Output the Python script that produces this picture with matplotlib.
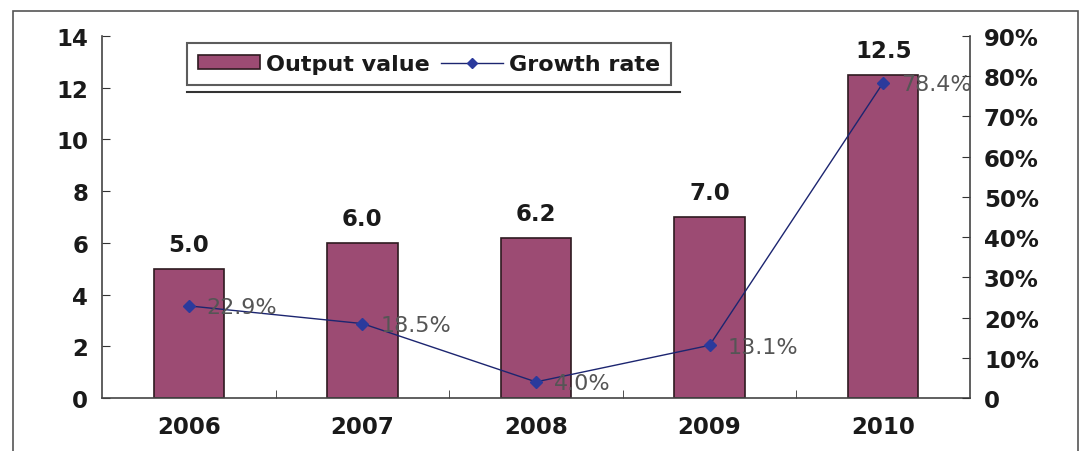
import matplotlib
matplotlib.use("Agg")
import matplotlib.pyplot as plt
from matplotlib.patches import Patch, Rectangle
from matplotlib.lines import Line2D

years = ["2006", "2007", "2008", "2009", "2010"]
output_value = [5.0, 6.0, 6.2, 7.0, 12.5]
growth_rate = [0.229, 0.185, 0.040, 0.131, 0.784]
left_ticks = [0, 2, 4, 6, 8, 10, 12, 14]
right_ticks = [0, 0.1, 0.2, 0.3, 0.4, 0.5, 0.6, 0.7, 0.8, 0.9]
right_labels = ["0", "10%", "20%", "30%", "40%", "50%", "60%", "70%", "80%", "90%"]

bar_color = "#9c4b73"
bar_edge = "#2e1a20"
line_color = "#1c2570"
marker_color = "#2b3a9c"
text_color = "#1a1a1a"

W, H = 1082, 452
fig = plt.figure(figsize=(W / 100, H / 100), dpi=100)
ax = fig.add_axes([102 / W, 1 - 399 / H, (970 - 102) / W, (399 - 37) / H])
ax2 = ax.twinx()

x = list(range(len(years)))
ax.bar(x, output_value, width=0.405, color=bar_color, edgecolor=bar_edge, linewidth=1.2, zorder=2)
for xi, v in zip(x, output_value):
    ax.annotate(f"{v:.1f}", (xi, v), xytext=(0, 9), textcoords="offset points",
                ha="center", va="bottom", fontsize=16.5, fontweight="bold", color=text_color)

ax2.plot(x, growth_rate, color=line_color, linewidth=1.0, marker="D", markersize=6,
         markerfacecolor=marker_color, markeredgecolor=marker_color, zorder=3)
for xi, g in zip(x, growth_rate):
    ax2.annotate(f"{g * 100:.1f}%", (xi, g), xytext=(13, -1), textcoords="offset points",
                 ha="left", va="center", fontsize=16, color="#555555")

ax.set_xlim(-0.5, len(years) - 0.5)
ax.set_ylim(0, 14)
ax2.set_ylim(0, 0.9)

ax.set_xticks(x)
ax.set_xticklabels(years, fontsize=16.5, fontweight="bold", color=text_color)
ax.set_xticks([i + 0.5 for i in x[:-1]], minor=True)
ax.tick_params(axis="x", which="major", length=0, pad=12)
ax.tick_params(axis="x", which="minor", direction="in", length=6, color="#333333")

ax.set_yticks(left_ticks)
ax.set_yticklabels([str(t) for t in left_ticks], fontsize=16.5, fontweight="bold", color=text_color)
ax.tick_params(axis="y", direction="in", length=6, pad=10, color="#333333")

ax2.set_yticks(right_ticks)
ax2.set_yticklabels(right_labels, fontsize=16.5, fontweight="bold", color=text_color)
ax2.tick_params(axis="y", direction="in", length=6, pad=10, color="#333333")

for a in (ax, ax2):
    a.spines["top"].set_visible(False)
    for s in ("left", "right", "bottom"):
        a.spines[s].set_color("#444444")
        a.spines[s].set_linewidth(1.2)
ax.spines["right"].set_visible(False)
ax2.spines["left"].set_visible(False)
ax2.spines["bottom"].set_visible(False)

handles = [
    Patch(facecolor=bar_color, edgecolor=bar_edge, linewidth=1.2),
    Line2D([], [], color=line_color, linewidth=1.0, marker="D", markersize=5,
           markerfacecolor=marker_color, markeredgecolor=marker_color),
]
leg = fig.legend(handles, ["Output value", "Growth rate"], loc="upper left",
                 bbox_to_anchor=(187 / W, 1 - 44 / H), ncol=2, frameon=True, fancybox=False,
                 prop={"size": 16, "weight": "bold"}, handlelength=2.8, handleheight=0.6,
                 handletextpad=0.25, columnspacing=0.5, borderpad=0.5, borderaxespad=0)
leg.get_frame().set_edgecolor("#333333")
leg.get_frame().set_linewidth(1.5)
for t in leg.get_texts():
    t.set_color(text_color)

fig.add_artist(Line2D([187 / W, 680 / W], [1 - 93 / H] * 2, color="#333333", linewidth=1.5))
fig.add_artist(Rectangle((13 / W, -0.05), (1078 - 13) / W, 1 - 12 / H + 0.05,
                         fill=False, edgecolor="#555555", linewidth=1.2))

fig.savefig("out.png", dpi=100)
